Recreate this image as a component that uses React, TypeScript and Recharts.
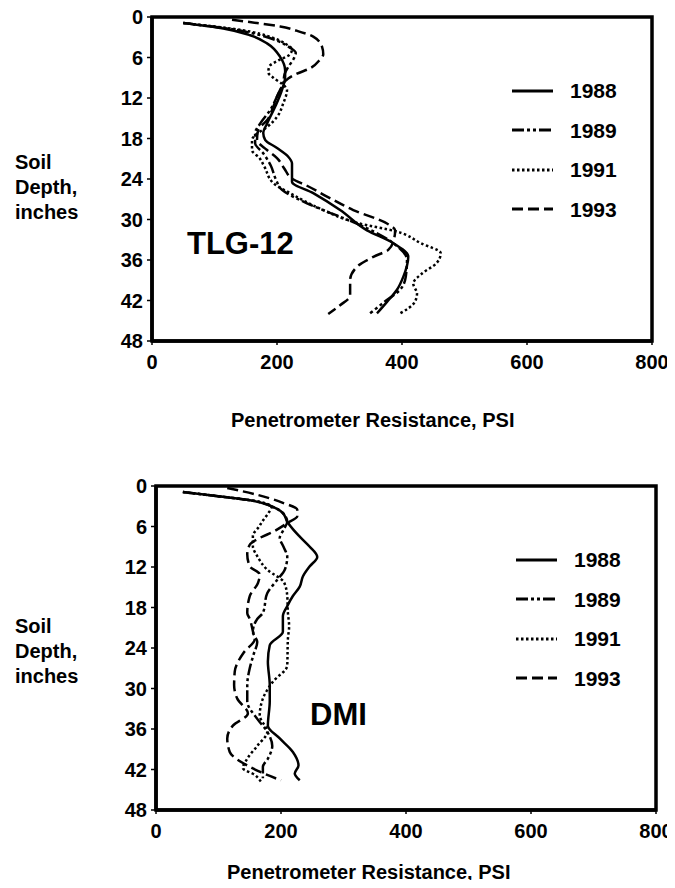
import { ScatterChart, Scatter, XAxis, YAxis, ReferenceArea, Legend } from 'recharts';

type Pt = { d: number; p: number };

const depthTicks = [0, 6, 12, 18, 24, 30, 36, 42, 48];
const psiTicks = [0, 200, 400, 600, 800];
const years = ['1988', '1989', '1991', '1993'];

// [depth (in), resistance (psi)]
const pts = (rows: number[][]): Pt[] => rows.map(([d, p]) => ({ d, p }));

const tlg1988 = pts([
    [0.9, 50], [1.7, 114], [2.7, 157], [3.9, 184], [5.9, 205], [7.9, 213], [8.9, 213],
    [10.8, 208], [13.3, 197], [15.8, 184], [17.2, 178], [18.2, 181], [19.4, 200], [20.7, 218],
    [21.7, 224], [24.4, 224], [26.1, 258], [28.6, 301], [31.6, 344], [33.5, 386], [35.5, 410],
    [38.5, 402], [40.4, 392], [42.2, 376], [43.9, 360],
]);
const tlg1989 = pts([
    [0.9, 50], [1.7, 120], [2.5, 165], [3.5, 200], [4.5, 220], [5.3, 230], [6.3, 226],
    [7.4, 218], [8.5, 212], [9.8, 210], [11.8, 200], [13.8, 189], [15.8, 173], [17.2, 165],
    [18.7, 165], [20.2, 178], [22, 190], [24, 198], [25.6, 208], [27.6, 248], [29.6, 301],
    [31.3, 344], [33.5, 386], [36, 408], [38.5, 406], [40.4, 397], [42.2, 372], [43.9, 349],
]);
const tlg1991 = pts([
    [0.9, 50], [1.9, 141], [3.1, 194], [4, 214], [4.8, 224], [5.6, 220], [6.4, 203],
    [7.3, 188], [8.2, 186], [9, 194], [9.9, 208], [10.8, 216], [12.8, 210], [14.8, 200],
    [16.3, 184], [17.3, 168], [18.2, 160], [19.7, 160], [20.9, 172], [22.2, 180], [24.6, 194],
    [26.1, 221], [28.6, 274], [30.5, 328], [31.8, 392], [33.5, 430], [35, 462], [36.5, 455],
    [38, 432], [39.5, 418], [41, 424], [42.3, 420], [43.9, 397],
]);
const tlg1993 = pts([
    [0.4, 128], [0.9, 168], [1.4, 205], [2.2, 237], [2.9, 258], [4.4, 272], [5.5, 274],
    [6.4, 268], [7.6, 253], [8.4, 232], [9.1, 218], [10.8, 205], [13.3, 194], [15.3, 184],
    [16.7, 170], [18.2, 168], [19.7, 184], [20.9, 200], [22.5, 212], [24, 225], [25, 248],
    [26.6, 280], [28.6, 322], [30.6, 376], [31.6, 389], [33, 387], [34.5, 378], [35.5, 355],
    [37, 328], [39, 317], [41.3, 317], [42.7, 301], [44, 282],
]);

const dmi1988 = pts([
    [0.9, 43], [1.6, 107], [2.1, 150], [3.1, 187], [4, 203], [5.3, 210], [6.5, 220],
    [7.5, 230], [9, 246], [10.5, 258], [11.9, 246], [13.4, 235], [14.9, 230], [16.3, 219],
    [17.8, 210], [19.3, 203], [21.6, 203], [23.6, 182], [26, 179], [29.5, 182], [31.9, 182],
    [35.5, 179], [37.4, 198], [39.4, 219], [41.4, 228], [42.6, 222], [43.6, 230],
]);
const dmi1989 = pts([
    [0.9, 43], [1.6, 107], [2.1, 150], [3.1, 187], [4, 203], [5.3, 210], [6.5, 204],
    [7.7, 198], [9, 204], [10.5, 210], [12.4, 206], [13.9, 194], [15.9, 178], [18.8, 171],
    [19.7, 162], [21.6, 155], [23.1, 162], [25, 156], [27, 150], [29.5, 146], [31.9, 146],
    [34.5, 162], [36.4, 178], [38.5, 186], [40.4, 179], [41.6, 171], [43.3, 171],
]);
const dmi1991 = pts([
    [0.9, 43], [1.6, 107], [2.1, 150], [3.1, 185], [4, 180], [5, 172], [6, 165],
    [7.4, 155], [8.9, 155], [10.4, 162], [12.4, 178], [14.3, 205], [16.3, 210], [18.7, 211],
    [20.8, 213], [22.7, 211], [26.6, 210], [29, 187], [31.5, 171], [34, 166], [36.4, 178],
    [38.5, 162], [40.4, 146], [41.8, 139], [42.8, 158], [43.8, 168],
]);
const dmi1993 = pts([
    [0.3, 114], [1.3, 162], [2.5, 203], [3.5, 226], [4.5, 226], [5.5, 210], [6.8, 187],
    [7.7, 166], [8.7, 150], [10.1, 146], [11.9, 150], [13.1, 166], [14.4, 163], [16.3, 150],
    [18.8, 146], [19.7, 150], [21.5, 155], [22.7, 158], [24.6, 141], [27.5, 126], [29.5, 125],
    [31.5, 130], [33.7, 147], [35.5, 123], [37.4, 114], [39.4, 118], [41.4, 146], [42.5, 170],
    [43.6, 200],
]);

const FONT = '"Liberation Sans", Arial, Helvetica, sans-serif';
const dashes: (string | undefined)[] = [undefined, '12 3 3 3 3 3', '2.5 2.5', '11 5'];
const tickStyle = { fontSize: 20, fontWeight: 700, fill: '#000', fontFamily: FONT };

function renderLegend() {
    return (
        <div style={{ fontFamily: FONT }}>
            {years.map((y, i) => (
                <div key={y} style={{ display: 'flex', alignItems: 'center', height: 39.5 }}>
                    <svg width={41} height={6}>
                        <line x1={0} y1={3} x2={41} y2={3} stroke="#000" strokeWidth={3} strokeDasharray={dashes[i]} />
                    </svg>
                    <span style={{ marginLeft: 17, fontSize: 21, fontWeight: 700, lineHeight: '21px', color: '#000' }}>{y}</span>
                </div>
            ))}
        </div>
    );
}

// plot area: 104+40 from the left, 21 from the top, 324 tall
function DepthChart({ series, width }: { series: Pt[][]; width: number }) {
    return (
        <ScatterChart width={width} height={392} margin={{ top: 21, right: width - 144 - 500, left: 104, bottom: 0 }}>
            <XAxis
                type="number"
                dataKey="p"
                domain={[0, 800]}
                ticks={psiTicks}
                interval={0}
                height={47}
                axisLine={{ stroke: '#000', strokeWidth: 3.5 }}
                tickLine={{ stroke: '#000', strokeWidth: 1.5 }}
                tickSize={4}
                tickMargin={10}
                tick={tickStyle}
            />
            <YAxis
                type="number"
                dataKey="d"
                domain={[0, 48]}
                ticks={depthTicks}
                interval={0}
                reversed
                width={40}
                axisLine={{ stroke: '#000', strokeWidth: 3.5 }}
                tickLine={{ stroke: '#000', strokeWidth: 1.5 }}
                tickSize={5}
                tickMargin={4}
                tick={tickStyle}
            />
            <ReferenceArea x1={0} x2={800} y1={0} y2={48} fill="none" stroke="#000" strokeWidth={3.5} />
            {years.map((y, i) => (
                <Scatter
                    key={y}
                    name={y}
                    data={series[i]}
                    fill="#000"
                    line={{ stroke: '#000', strokeWidth: 2.5, strokeDasharray: dashes[i] }}
                    lineJointType="monotoneY"
                    shape={() => <g />}
                    isAnimationActive={false}
                />
            ))}
            <Legend
                layout="vertical"
                align="center"
                verticalAlign="middle"
                content={renderLegend}
                wrapperStyle={{ left: 504, top: 75, width: 120, height: 160 }}
            />
        </ScatterChart>
    );
}

const axisLabel = { position: 'absolute' as const, fontSize: 20, fontWeight: 700, lineHeight: '25px' };
const xTitle = { position: 'absolute' as const, fontSize: 20, fontWeight: 700, lineHeight: '20px', whiteSpace: 'nowrap' as const };
const siteLabel = { position: 'absolute' as const, fontSize: 31, fontWeight: 700, lineHeight: '31px' };

export default function App() {
    return (
        <div style={{ position: 'relative', width: 659, height: 872, fontFamily: FONT, color: '#000' }}>
            <div style={{ position: 'absolute', left: 0, top: -12 }}>
                <DepthChart series={[tlg1988, tlg1989, tlg1991, tlg1993]} width={666} />
            </div>
            <div style={{ ...axisLabel, left: 7, top: 142 }}>Soil<br />Depth,<br />inches</div>
            <div style={{ ...siteLabel, left: 179, top: 220 }}>TLG-12</div>
            <div style={{ ...xTitle, left: 223, top: 402 }}>Penetrometer Resistance, PSI</div>

            <div style={{ position: 'absolute', left: 4, top: 457 }}>
                <DepthChart series={[dmi1988, dmi1989, dmi1991, dmi1993]} width={663} />
            </div>
            <div style={{ ...axisLabel, left: 7, top: 606 }}>Soil<br />Depth,<br />inches</div>
            <div style={{ ...siteLabel, left: 302, top: 691 }}>DMI</div>
            <div style={{ ...xTitle, left: 219, top: 854 }}>Penetrometer Resistance, PSI</div>
        </div>
    );
}
